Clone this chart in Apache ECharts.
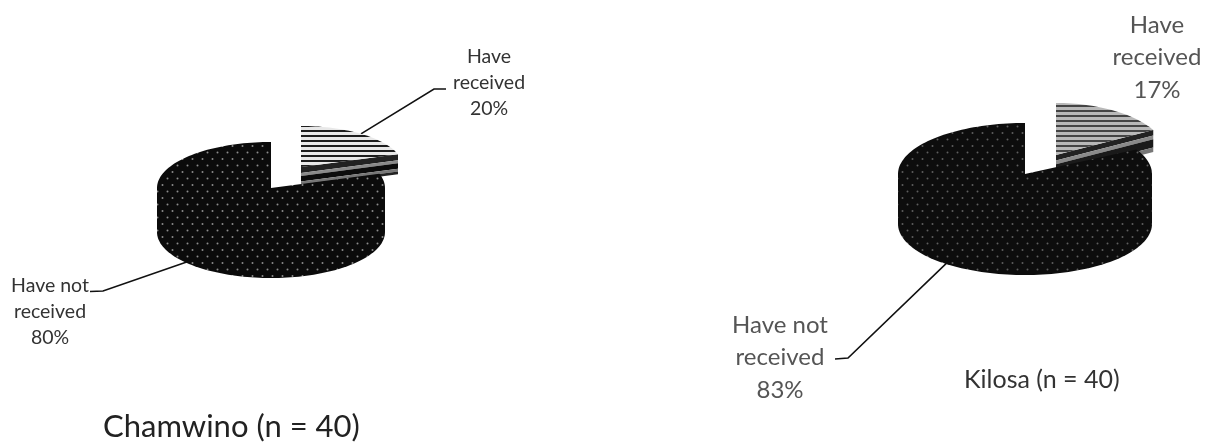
<!DOCTYPE html>
<html><head><meta charset="utf-8">
<script src="https://cdn.jsdelivr.net/npm/echarts@6/dist/echarts.min.js"></script>
<style>html,body{margin:0;padding:0;background:#fff}#c{width:1205px;height:445px}</style></head>
<body><div id="c"></div>
<script>
// ---- data ----
const categories = ['Have received', 'Have not received'];
const chamwinoValues = [20, 80];
const kilosaValues = [17, 83];
const chamwinoTitle = 'Chamwino (n = 40)';
const kilosaTitle = 'Kilosa (n = 40)';

// ---- patterns ----
function dots(bg, fg){
  const c=document.createElement('canvas'); c.width=10; c.height=13;
  const g=c.getContext('2d'); g.fillStyle=bg; g.fillRect(0,0,10,13);
  g.fillStyle=fg;
  g.beginPath(); g.arc(2.5,3,1,0,7); g.fill();
  g.beginPath(); g.arc(7.5,9.5,1,0,7); g.fill();
  return {image:c, repeat:'repeat'};
}
function stripes(a,b,p,t){
  const c=document.createElement('canvas'); c.width=4; c.height=p;
  const g=c.getContext('2d'); g.fillStyle=a; g.fillRect(0,0,4,p);
  g.fillStyle=b; g.fillRect(0,0,4,t);
  return {image:c, repeat:'repeat'};
}

// ---- layout ----
const FONT = 'Lato,"Open Sans",sans-serif';
const layouts = [
  { main:{cx:271,cy:188,rx:114,ry:46,d:44}, slice:{cx:301,cy:167,rx:102,ry:41,d:20},
    color:'#333', font:19.5, lh:26, dotFill:dots('#0b0b0b','#8c8c8c'), sliceFill:stripes('#e8e8e8','#1c1c1c',5,2),
    bands:[[0,.3,'#222'],[.3,.45,'#8a8a8a'],[.45,.72,'#0c0c0c'],[.72,.86,'#777'],[.86,1,'#222']],
    recv:{x:489,y:44, elbow:[434,89], end:[446,89], depthF:0},
    not:{x:50,y:273, elbow:[103,291], end:[90,291.5], depthF:0.7} },
  { main:{cx:1025,cy:174,rx:127,ry:51,d:50}, slice:{cx:1056,cy:155,rx:111,ry:52,d:22},
    color:'#555', font:24, lh:32.5, dotFill:dots('#0d0d0d','#5e5e5e'), sliceFill:stripes('#b8b8b8','#444',5,2),
    bands:[[0,.25,'#222'],[.25,.42,'#8a8a8a'],[.42,.8,'#1a1a1a'],[.8,1,'#777']],
    recv:{x:1157,y:9, elbow:null},
    not:{x:780,y:309, elbow:[848,358], end:[835,359], depthF:0.64} }
];

const rad=a=>a*Math.PI/180;
const pt=(g,a,dy)=>[g.cx+g.rx*Math.sin(rad(a)), g.cy-g.ry*Math.cos(rad(a))+(dy||0)];
function arc(g,a0,a1,dy){const r=[];const n=Math.max(2,Math.ceil(Math.abs(a1-a0)/2));
  for(let i=0;i<=n;i++) r.push(pt(g,a0+(a1-a0)*i/n,dy)); return r;}
const poly=(points,fill)=>({type:'polygon',shape:{points},style:{fill,stroke:null}});
const line=(points,color,w)=>({type:'polyline',shape:{points},style:{stroke:color,lineWidth:w,fill:null}});
const wrap=(name,pct)=>{const w=name.split(' ');return w.slice(0,-1).join(' ')+'\n'+w[w.length-1]+'\n'+pct+'%';};

function pieSeries(values,L){
  const total=values.reduce((a,b)=>a+b,0);
  const sweep=values[0]/total*360;
  return {type:'custom',coordinateSystem:'none',silent:true,
    data:categories.map((n,i)=>({name:n,value:[values[i]]})),
    renderItem(params,api){
      const i=params.dataIndex, v=api.value(0), kids=[];
      const tc={fill:L.color,font:`${L.font}px ${FONT}`,align:'center',verticalAlign:'top',lineHeight:L.lh};
      if(i===1){
        const g=L.main, mid=sweep+(360-sweep)/2, a=L.not;
        kids.push(line([a.end,a.elbow,pt(g,mid,g.d*a.depthF)],'#111',1.6));
        kids.push(poly([pt(g,270),pt(g,90)].concat(arc(g,90,270,g.d)),L.dotFill));
        kids.push(poly([[g.cx,g.cy]].concat(arc(g,sweep,360)),L.dotFill));
        kids.push({type:'text',style:Object.assign({x:a.x,y:a.y,text:wrap(categories[1],v)},tc)});
      } else {
        const g=L.slice, mid=sweep/2, a=L.recv;
        if(a.elbow) kids.push(line([a.end,a.elbow,pt(g,mid)],'#111',1.6));
        const apex=[g.cx,g.cy], tip=pt(g,sweep);
        L.bands.forEach(b=>{
          kids.push(poly([[apex[0],apex[1]+g.d*b[0]],[tip[0],tip[1]+g.d*b[0]],[tip[0],tip[1]+g.d*b[1]],[apex[0],apex[1]+g.d*b[1]]],b[2]));
        });
        kids.push(poly([apex].concat(arc(g,0,sweep)),L.sliceFill));
        kids.push({type:'text',style:Object.assign({x:a.x,y:a.y,text:wrap(categories[0],v)},tc)});
      }
      return {type:'group',children:kids};
    }};
}

const chart=echarts.init(document.getElementById('c'),null,{renderer:'canvas'});
chart.setOption({
  animation:false,backgroundColor:'#fff',
  title:[
    {text:chamwinoTitle,left:103,top:411,padding:0,textStyle:{fontFamily:FONT,fontSize:31,fontWeight:'normal',color:'#222'}},
    {text:kilosaTitle,left:964,top:367,padding:0,textStyle:{fontFamily:FONT,fontSize:25,fontWeight:'normal',color:'#333'}}
  ],
  series:[pieSeries(chamwinoValues,layouts[0]),pieSeries(kilosaValues,layouts[1])]
});
</script></body></html>
